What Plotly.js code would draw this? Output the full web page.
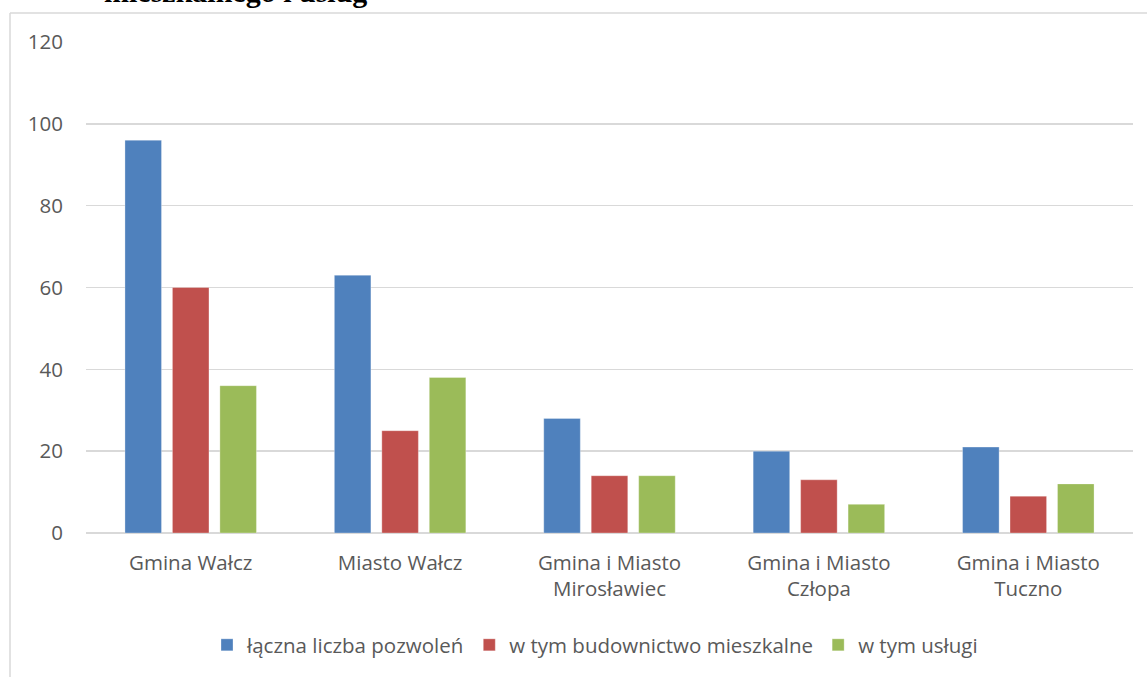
<!DOCTYPE html>
<html>
<head>
<meta charset="utf-8">
<script src="https://cdn.plot.ly/plotly-3.0.1.min.js"></script>
<style>
html,body{margin:0;padding:0;background:#fff;}
#chart{width:1147px;height:677px;}
</style>
</head>
<body>
<div id="chart"></div>
<script>
const categories = ["Gmina Wałcz", "Miasto Wałcz", "Gmina i Miasto<br>Mirosławiec", "Gmina i Miasto<br>Człopa", "Gmina i Miasto<br>Tuczno"];
const seriesNames = ["łączna liczba pozwoleń", "w tym budownictwo mieszkalne", "w tym usługi"];
const totalPermits = [96, 63, 28, 20, 21];
const housing = [60, 25, 14, 13, 9];
const services = [36, 38, 14, 7, 12];
const yTicks = [0, 20, 40, 60, 80, 100, 120];
const titleFragment = "mieszkalnego i usług";

const colors = ["#4F81BD", "#C0504D", "#9BBB59"];
const values = [totalPermits, housing, services];

const traces = values.map((v, i) => ({
  type: "bar",
  name: seriesNames[i],
  x: categories,
  y: v,
  marker: {color: colors[i], line: {color: "rgba(255,255,255,0.5)", width: 0.6}},
  hoverinfo: "x+y"
}));

const W = 1147, H = 677, L = 86, R = 14, T = 42, B = 144;
const pw = W - L - R, ph = H - T - B;
function px(x){ return (x - L) / pw; }
function py(y){ return (H - B - y) / ph; }

const FS = 20.5;

const layout = {
  width: W, height: H,
  margin: {l: L, r: R, t: T, b: B},
  paper_bgcolor: "#fff",
  plot_bgcolor: "#fff",
  barmode: "group",
  bargap: 0.32,
  bargroupgap: 0.23,
  font: {family: "Open Sans, Liberation Sans, sans-serif", color: "#595959", size: FS},
  xaxis: {
    tickfont: {size: FS, color: "#595959"},
    showgrid: false,
    showline: false,
    ticks: "",
    ticklabelstandoff: 15,
    fixedrange: true
  },
  yaxis: {
    range: [0, 120],
    tickvals: yTicks,
    showgrid: true,
    gridcolor: "#d9d9d9",
    gridwidth: 1.5,
    zeroline: true,
    zerolinecolor: "#d9d9d9",
    zerolinewidth: 1.5,
    showline: false,
    ticks: "",
    ticklabelstandoff: 22,
    tickfont: {size: FS, color: "#595959"},
    fixedrange: true
  },
  legend: {
    orientation: "h",
    x: px(595), xanchor: "center",
    y: py(645), yanchor: "middle",
    font: {size: FS, color: "#595959"},
    traceorder: "normal",
    itemwidth: 30
  },
  shapes: [
    {type: "line", xref: "paper", yref: "paper", x0: px(10), x1: px(1147), y0: py(13), y1: py(13), line: {color: "#d9d9d9", width: 1.5}},
    {type: "line", xref: "paper", yref: "paper", x0: px(10), x1: px(10), y0: py(13), y1: py(677), line: {color: "#d9d9d9", width: 1.5}}
  ],
  annotations: [
    {text: "<b>" + titleFragment + "</b>", xref: "paper", yref: "paper", x: px(102), xanchor: "left",
     y: py(10), yanchor: "bottom", showarrow: false,
     font: {family: "Liberation Serif, Times New Roman, serif", size: 30, color: "#000"}}
  ]
};

Plotly.newPlot("chart", traces, layout, {displayModeBar: false, staticPlot: true});
</script>
</body>
</html>
